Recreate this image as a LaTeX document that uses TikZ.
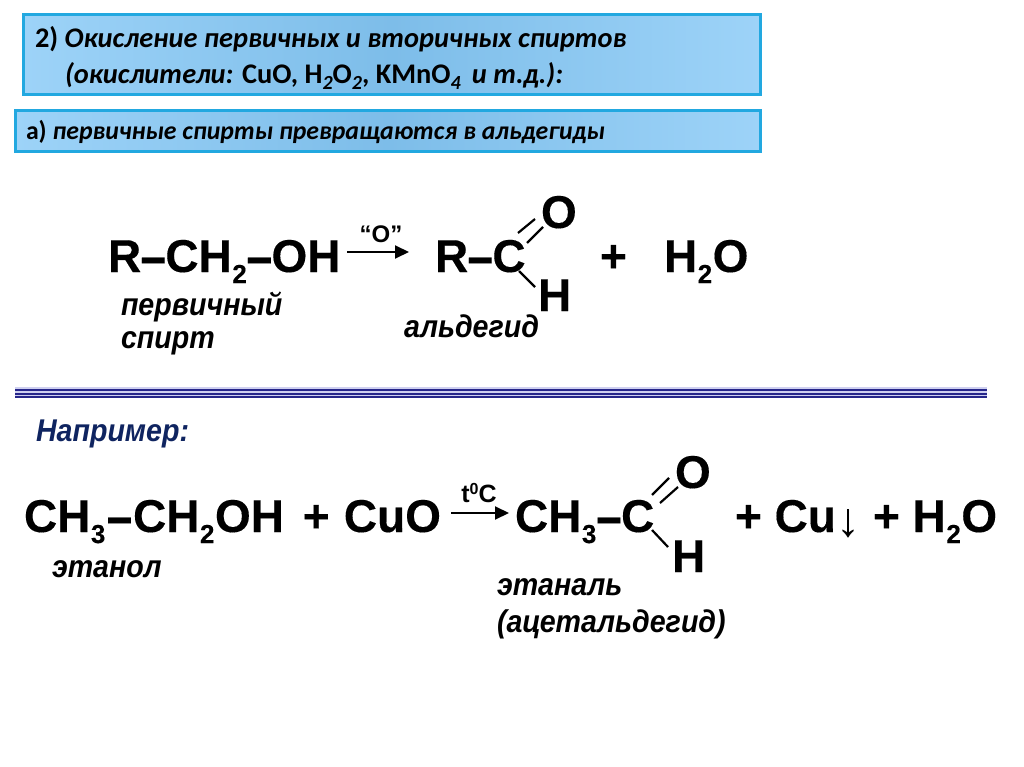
\documentclass[tikz,border=0pt]{standalone}
\usepackage{fontspec}
\usepackage{graphicx}
\setmainfont{Liberation Sans}
\newfontfamily\hdfont{Carlito}
\newfontfamily\chemfont[FakeBold=0.25]{Liberation Sans Bold}
\definecolor{boxedge}{HTML}{22A8E0}
\definecolor{boxlight}{HTML}{9DD3F8}
\definecolor{boxmid}{HTML}{7DBDE9}
\definecolor{navy}{HTML}{0F2460}
\definecolor{stripe}{HTML}{26268A}
\definecolor{stripelight}{HTML}{CFD0F0}
\newcommand{\fsize}[1]{\fontsize{#1}{#1}\selectfont}
\newcommand{\subn}[1]{\kern0.5pt\raisebox{-11pt}{\fsize{26}#1}\kern0.5pt}
\newcommand{\hsub}[1]{\raisebox{-6pt}{\fsize{20}\bfseries\itshape #1}}
\newcommand{\bdash}{\kern-0.7pt\raisebox{-4pt}{\scalebox{1}[1.25]{–}}\kern-0.7pt}
\newcommand{\tallt}[1]{\scalebox{1}[1.1]{#1}}
\usetikzlibrary{arrows.meta}
\tikzset{
  x=1pt,y=-1pt,
  lab/.style={anchor=base west,inner sep=0pt,outer sep=0pt},
  formula/.style={lab,font=\fsize{46}\chemfont},
  cond/.style={anchor=base,inner sep=0pt,font=\fsize{24}\bfseries},
  chemname/.style={lab,font=\fsize{28.6}\bfseries\itshape},
  head/.style={lab,font=\fsize{28.4}\hdfont\bfseries},
  headsmall/.style={lab,font=\fsize{25.8}\hdfont\bfseries},
  bond/.style={line width=2.2pt,black},
  rxarrow/.style={line width=2pt,black,-{Triangle[length=14pt,width=13pt]}},
  panel/.style={draw=boxedge,line width=3pt,left color=boxlight,right color=boxlight,middle color=boxmid,shading angle=90},
}
\begin{document}
\begin{tikzpicture}
\useasboundingbox (0,0) rectangle (1024,767);
\fill[white] (0,0) rectangle (1024,767);
% panels
\path[panel] (23.5,14.5) rectangle (760.5,94.5);
\path[panel] (15.5,110.5) rectangle (760.5,151.5);
\node[head] (h1) at (35,48) {2) {\itshape Окисление первичных и вторичных спиртов}};
\node[head] (h2) at (65,84) {\itshape (окислители: {\upshape CuO, H\hsub{2}O\hsub{2}, KMnO\hsub{4}}\, и т.д.):};
\node[headsmall] (h3) at (26,140) {а) {\itshape первичные спирты превращаются в альдегиды}};
% first reaction
\node[formula] (f1) at (108,272) {R\bdash CH\subn{2}\bdash OH};
\node[cond] (oxy) at (381,243) {“O”};
\coordinate (a1s) at (347,252);
\coordinate (a1e) at (409,252);
\draw[rxarrow] (a1s) -- (a1e);
\node[formula] (f2) at (435,272) {R\bdash C};
\node[formula] (o1) at (541,228) {O};
\node[formula] (h1b) at (538,311) {H};
\coordinate (c1a) at (518,233); \coordinate (o1a) at (535,219);
\coordinate (c1b) at (527,243); \coordinate (o1b) at (543,227);
\coordinate (c1h) at (519,271); \coordinate (h1t) at (535,287);
\draw[bond] (c1a) -- (o1a);
\draw[bond] (c1b) -- (o1b);
\draw[bond] (c1h) -- (h1t);
\node[formula] (p1) at (600,272) {+};
\node[formula] (w1) at (664,272) {H\subn{2}O};
\node[chemname] (n1) at (121,315) {\tallt{первичный}};
\node[chemname] (n2) at (121,348) {\tallt{спирт}};
\node[chemname] (n3) at (404,337) {\tallt{альдегид}};
% divider
\fill[stripelight] (15,387) rectangle (987,398);
\fill[stripe] (15,388.5) rectangle (987,391);
\fill[stripe] (15,393) rectangle (987,395);
\fill[stripe] (15,396) rectangle (987,397.5);
\node[chemname,text=navy] (ex) at (36,441) {\tallt{Например:}};
% second reaction
\node[formula] (g1) at (24,532) {CH\subn{3}\kern1.5pt\bdash\kern1.5pt CH\subn{2}OH\kern6pt{} + \kern1.5pt CuO};
\node[cond,font=\fsize{25}\bfseries] (t0) at (479,502) {t\raisebox{8pt}{\fsize{16}0}C};
\coordinate (a2s) at (451,513);
\coordinate (a2e) at (509,513);
\draw[rxarrow] (a2s) -- (a2e);
\node[formula] (g2) at (515,532) {CH\subn{3}\bdash C};
\node[formula] (o2) at (675,488) {O};
\node[formula] (h2b) at (672,572) {H};
\coordinate (c2a) at (652,495); \coordinate (o2a) at (669,478);
\coordinate (c2b) at (660,503); \coordinate (o2b) at (678,487);
\coordinate (c2h) at (652,530); \coordinate (h2t) at (668,547);
\draw[bond] (c2a) -- (o2a);
\draw[bond] (c2b) -- (o2b);
\draw[bond] (c2h) -- (h2t);
\node[formula] (g3) at (735,532) {+ Cu};
\node[lab,font=\fsize{48}] (dn) at (836,536) {↓};
\node[formula] (g4) at (873,532) {+ H\subn{2}O};
\node[chemname] (e1) at (52,577) {\tallt{этанол}};
\node[chemname] (e2) at (497,595) {\tallt{этаналь}};
\node[chemname] (e3) at (497,632) {\tallt{(ацетальдегид)}};
\end{tikzpicture}
\end{document}
